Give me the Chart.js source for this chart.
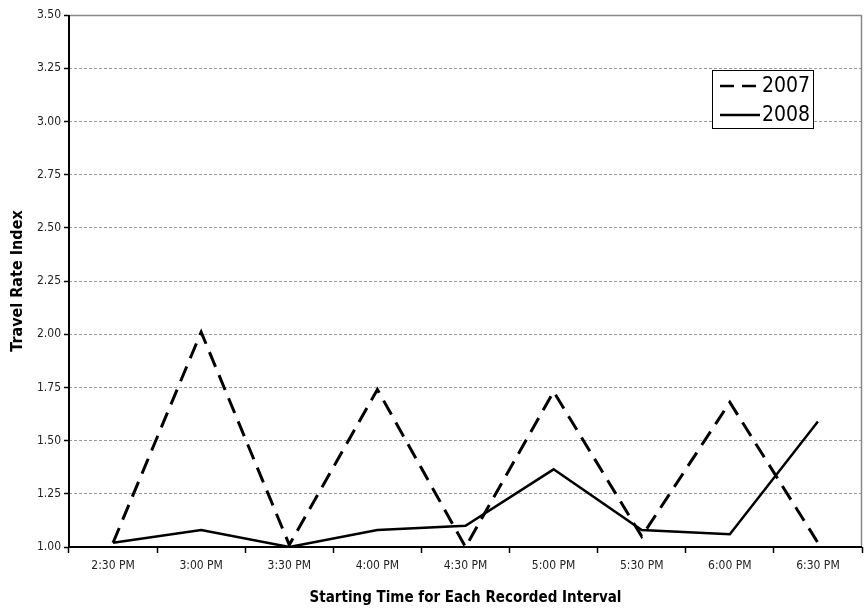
<!DOCTYPE html>
<html><head><meta charset="utf-8">
<script src="https://cdn.jsdelivr.net/npm/chart.js@4/dist/chart.umd.min.js"></script>
<style>html,body{margin:0;padding:0;background:#fff}#wrap{width:865px;height:611px;position:relative}</style>
</head><body><div id="wrap"><canvas id="c"></canvas></div>
<script>
const categories = ['2:30 PM','3:00 PM','3:30 PM','4:00 PM','4:30 PM','5:00 PM','5:30 PM','6:00 PM','6:30 PM'];
const series2007 = [1.02, 2.01, 1.01, 1.74, 1.00, 1.73, 1.05, 1.68, 1.02];
const series2008 = [1.02, 1.08, 1.00, 1.08, 1.10, 1.365, 1.08, 1.06, 1.59];
const seriesLabels = ['2007', '2008'];
const yTicks = [1.00,1.25,1.50,1.75,2.00,2.25,2.50,2.75,3.00,3.25,3.50];
const FONT = '"DejaVu Sans Condensed","Liberation Sans Narrow","Liberation Sans",sans-serif';

const framePlugin = {
  id:'frame',
  afterDraw(chart){
    const {ctx, chartArea:a} = chart;
    ctx.save();
    ctx.setLineDash([]);
    ctx.strokeStyle='#888'; ctx.lineWidth=1.5;
    ctx.beginPath();
    ctx.moveTo(a.left, a.top+0.5); ctx.lineTo(a.right, a.top+0.5);
    ctx.moveTo(a.right-0.5, a.top); ctx.lineTo(a.right-0.5, a.bottom);
    ctx.stroke();
    ctx.strokeStyle='#000'; ctx.lineWidth=2;
    ctx.beginPath();
    ctx.moveTo(a.left, a.top); ctx.lineTo(a.left, a.bottom);
    ctx.lineTo(a.right, a.bottom);
    ctx.stroke();
    // legend
    const bx=712, by=70, bw=101, bh=58;
    ctx.fillStyle='#fff'; ctx.fillRect(bx,by,bw,bh);
    ctx.strokeStyle='#000'; ctx.lineWidth=1; ctx.strokeRect(bx+0.5,by+0.5,bw,bh);
    ctx.font='21px '+FONT; ctx.fillStyle='#000'; ctx.textBaseline='middle'; ctx.textAlign='left';
    chart.data.datasets.forEach((ds,i)=>{
      const yy = by+16+i*29;
      ctx.strokeStyle='#000'; ctx.lineWidth=2.5;
      ctx.setLineDash(ds.borderDash ? [14,8] : []);
      ctx.beginPath(); ctx.moveTo(bx+8,yy); ctx.lineTo(bx+48,yy); ctx.stroke();
      ctx.setLineDash([]);
      ctx.fillText(ds.label, bx+50, yy+1);
    });
    ctx.restore();
  }
};

new Chart(document.getElementById('c'), {
  type:'line',
  data:{
    labels: categories,
    datasets:[
      {label:seriesLabels[0], data:series2007, borderColor:'#000', borderWidth:3, borderDash:[16,9], pointRadius:0, fill:false, tension:0},
      {label:seriesLabels[1], data:series2008, borderColor:'#000', borderWidth:2.5, pointRadius:0, fill:false, tension:0}
    ]
  },
  options:{
    responsive:true, maintainAspectRatio:false, animation:false,
    layout:{padding:{left:8,right:3,top:15,bottom:0}},
    plugins:{legend:{display:false}, tooltip:{enabled:false}},
    scales:{
      x:{
        offset:true,
        grid:{offset:true, drawOnChartArea:false, drawTicks:true, tickLength:6, tickColor:'#000', tickWidth:1.5},
        border:{display:false},
        ticks:{color:'#222', font:{family:FONT, size:12}, padding:6, maxRotation:0},
        title:{display:true, text:'Starting Time for Each Recorded Interval', color:'#000', font:{family:FONT, size:15, weight:'bold'}, padding:{top:12}},
        afterFit(s){ s.height = 64; }
      },
      y:{
        min:1, max:3.5,
        afterBuildTicks(s){ s.ticks = yTicks.map(v=>({value:v})); },
        grid:{color:'#9a9a9a', lineWidth:1, drawTicks:true, tickLength:5, tickColor:'#000', tickBorderDash:[], tickWidth:1.5},
        border:{display:false, dash:[3,2]},
        ticks:{color:'#222', font:{family:FONT, size:12}, padding:3, callback:v=>v.toFixed(2)},
        title:{display:true, text:'Travel Rate Index', color:'#000', font:{family:FONT, size:16, weight:'bold'}, padding:{top:0,bottom:4}},
        afterFit(s){ s.width = 61; }
      }
    }
  },
  plugins:[framePlugin]
});
</script></body></html>
